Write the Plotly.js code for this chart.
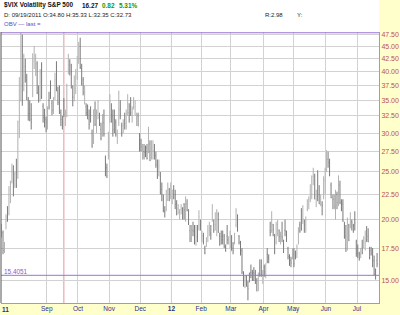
<!DOCTYPE html>
<html><head><meta charset="utf-8">
<script src="https://cdn.plot.ly/plotly-3.0.1.min.js"></script>
<style>html,body{margin:0;padding:0;background:#fff}#c{width:400px;height:315px}</style>
</head><body><div id="c"></div>
<script>
// trading days per month, Jul 20 2011 .. Jul 20 2012
const monthNames = ['Jul','Aug','Sep','Oct','Nov','Dec','12','Feb','Mar','Apr','May','Jun','Jul'];
const monthCounts = [8,23,21,21,21,21,20,20,22,20,22,21,14];

const opens = [
 18.7,18.8,17.4,19.8,20.5,20.6,22.5,25.0,
 24.0,24.0,24.9,25.0,30.5,35.0,44.0,38.0,41.0,38.5,35.0,33.5,32.0,36.0,42.0,40.0,41.5,36.0,35.0,40.0,34.0,33.0,32.0,
 31.5,35.0,37.5,34.5,33.5,35.5,40.5,36.5,35.0,33.0,31.5,34.80,32.5,33.0,40.5,42.0,40.0,35.5,35.5,37.0,39.0,
 43.5,45.0,40.5,38.5,35.5,34.0,33.5,32.0,33.0,30.0,29.0,33.5,30.5,33.0,32.0,30.5,30.0,31.5,26.0,25.5,27.0,
 32.0,33.5,32.5,32.0,31.5,29.5,31.5,33.5,31.0,31.0,32.0,31.0,33.0,33.0,34.0,33.0,34.0,34.0,32.0,32.5,29.0,
 28.5,27.0,27.5,27.8,28.0,27.5,28.5,27.5,27.5,28.0,27.0,25.5,25.0,24.5,23.0,22.0,20.8,21.5,22.0,23.0,22.5,
 22.5,23.0,22.5,21.5,21.0,20.5,21.0,21.0,21.5,20.0,21.5,20.0,19.0,18.5,19.0,19.0,18.0,19.0,19.5,19.5,
 18.5,18.5,17.5,18.0,18.5,19.0,18.8,20.0,19.5,19.5,19.0,20.5,18.5,18.5,18.5,18.5,17.5,18.5,18.0,17.5,
 18.5,17.5,18.0,19.5,20.0,18.5,17.8,17.3,15.5,15.0,15.3,14.6,15.3,15.6,15.5,15.6,15.5,14.8,14.5,15.5,16.0,15.5,
 16.0,15.5,17.0,16.8,19.0,19.0,19.5,18.5,18.0,19.5,19.0,18.5,18.5,17.8,19.0,18.8,17.5,16.8,16.5,17.0,
 17.0,17.0,17.0,18.0,19.5,19.5,20.0,19.5,19.5,21.0,21.5,22.0,22.5,24.5,24.5,22.0,23.0,22.5,21.5,21.5,22.5,24.0,
 25.5,26.5,26.5,23.5,21.5,22.0,20.5,22.5,21.5,23.5,21.5,21.5,19.5,18.5,17.5,19.5,19.5,19.8,19.5,20.0,18.0,
 17.5,17.0,17.0,17.5,18.0,18.0,19.0,18.5,17.5,17.3,17.0,16.5,15.5,16.5];
const highs = [
 19.6,19.0,18.0,20.5,21.3,23.4,24.0,26.0,
 25.8,25.0,26.6,31.8,39.0,48.0,47.6,43.5,42.5,39.6,35.5,35.0,34.5,43.6,45.1,43.5,42.0,37.5,40.5,41.8,34.5,33.6,32.4,
 34.0,36.4,38.4,35.0,35.5,39.8,42.0,37.3,37.5,33.5,32.5,35.33,33.5,37.8,43.5,42.4,41.5,37.5,39.3,40.5,43.0,
 46.0,46.9,41.5,39.0,37.5,34.5,34.3,33.5,34.0,30.5,33.5,34.8,33.5,35.0,33.0,31.5,32.8,33.5,27.0,26.0,30.2,
 36.0,34.5,33.5,33.5,32.0,30.5,36.6,35.0,31.5,32.0,33.0,33.5,36.0,34.5,35.5,34.0,35.5,35.0,33.0,33.0,30.0,
 29.2,28.5,28.5,28.3,28.5,30.9,29.0,29.0,29.0,28.5,27.5,26.5,26.5,25.0,23.8,22.5,21.3,23.0,23.8,23.2,23.8,
 23.0,23.5,23.0,21.9,21.5,21.0,21.5,21.2,21.6,22.3,22.0,21.0,19.5,19.5,19.8,19.5,19.5,19.5,20.9,20.0,
 19.0,18.8,17.7,18.4,19.5,19.8,19.5,21.5,20.0,20.7,21.0,20.7,18.8,19.0,19.0,18.7,17.8,19.5,18.5,19.0,
 18.6,18.0,18.8,21.1,20.5,18.6,18.1,17.5,15.7,15.4,15.4,15.0,15.6,16.2,15.8,16.0,15.8,15.2,15.6,16.6,16.6,15.8,
 16.2,16.3,17.5,17.0,19.8,20.8,19.6,18.7,19.8,20.0,19.1,18.9,19.8,18.2,20.0,19.0,17.6,17.0,16.8,17.5,
 17.5,17.3,17.8,19.3,19.8,21.1,21.4,20.0,20.3,22.0,22.3,23.6,24.6,25.5,24.8,23.0,25.2,23.5,22.5,21.8,24.5,25.5,
 27.7,27.5,26.6,23.8,22.5,22.5,23.0,22.8,24.6,24.0,22.0,22.0,19.8,19.5,20.2,19.6,20.7,20.0,19.6,20.8,18.2,
 17.8,17.2,17.5,18.2,18.5,19.0,19.4,19.2,17.6,17.6,17.5,16.9,15.9,17.1];
const lows = [
 18.4,17.0,17.1,19.1,19.8,20.4,21.6,23.7,
 22.3,23.2,23.2,24.2,29.3,34.8,34.1,36.5,38.0,35.0,31.8,31.7,30.5,35.5,40.5,39.2,36.0,34.6,34.8,35.2,31.5,30.8,30.1,
 30.5,33.5,35.2,32.6,32.8,35.0,36.5,34.2,32.8,31.0,30.5,32.35,31.0,32.3,39.5,39.3,37.0,34.0,34.8,36.0,38.5,
 41.5,40.5,37.5,35.8,34.3,32.5,32.0,30.5,31.5,28.0,28.5,31.0,30.0,32.0,31.0,29.0,29.5,29.5,24.5,24.3,26.5,
 31.5,31.5,29.5,30.0,29.5,28.5,31.0,32.0,29.5,30.0,30.5,30.5,32.5,31.5,32.5,31.5,33.5,32.5,31.0,31.0,27.5,
 27.5,26.5,26.5,26.8,26.5,27.3,26.3,26.5,26.5,26.5,25.5,24.2,24.5,22.5,21.8,20.7,20.2,20.8,21.8,21.8,22.0,
 21.5,22.0,21.0,20.4,20.5,20.0,20.5,20.0,20.0,19.8,20.8,19.5,18.0,18.0,18.5,17.8,17.7,18.0,19.0,19.0,
 18.0,17.8,17.0,17.6,18.0,18.5,18.2,19.8,18.8,19.0,18.5,18.8,17.7,17.8,17.8,17.5,17.2,17.8,17.8,17.5,
 17.3,17.0,17.8,19.3,18.9,17.8,16.9,15.5,14.6,14.5,14.6,13.7,14.9,15.2,15.0,15.0,14.8,14.3,14.3,15.3,15.3,14.8,
 15.3,15.2,16.3,16.3,18.5,18.8,18.5,17.0,17.8,18.5,18.0,17.8,18.0,17.1,18.5,18.0,16.6,16.1,16.0,16.6,
 16.0,16.6,16.7,17.8,18.8,19.0,19.6,18.8,18.8,20.8,21.0,21.7,22.0,23.5,22.0,21.2,21.8,21.5,21.3,20.4,22.0,22.5,
 25.0,25.5,24.5,22.1,21.0,21.0,20.0,21.0,21.3,21.5,20.8,19.8,18.3,17.2,17.3,18.1,19.2,19.0,18.8,19.0,16.8,
 16.7,16.5,16.7,17.0,17.5,17.3,18.0,18.0,16.6,16.9,16.0,15.4,15.1,16.0];
const closes = [
 19.21,17.28,17.52,20.23,20.25,22.98,23.74,25.25,
 23.66,24.79,23.38,31.66,32.00,48.00,35.06,42.99,39.00,36.36,32.85,32.89,31.58,42.67,43.05,42.44,36.27,35.90,39.76,35.59,32.28,32.91,31.62,
 31.82,33.92,37.00,33.38,35.00,38.52,36.91,34.60,33.74,31.97,30.98,32.73,32.91,37.32,41.35,41.25,37.00,35.50,38.84,37.50,42.96,
 45.45,40.82,37.81,36.27,36.20,33.04,32.86,31.26,32.50,28.24,33.39,31.26,32.50,34.78,31.32,29.26,32.22,29.86,25.46,24.53,29.96,
 34.77,32.74,30.50,30.16,29.85,29.69,36.16,32.81,30.04,31.13,31.37,32.91,34.51,32.00,32.91,33.55,34.87,34.47,32.23,30.90,27.80,
 28.13,27.52,27.41,27.20,26.66,30.59,26.38,27.84,27.61,27.59,25.88,24.29,25.67,22.65,22.50,20.89,20.73,21.91,23.52,22.65,23.40,
 22.97,22.22,21.48,20.63,21.07,20.69,21.05,20.47,20.91,22.20,20.89,19.60,18.28,18.67,18.94,18.31,18.46,18.53,20.30,19.44,
 18.55,17.98,17.10,18.38,18.97,19.14,18.63,20.79,19.04,19.54,20.80,18.82,17.78,18.19,18.20,17.63,17.31,18.19,18.19,18.43,
 17.26,17.29,18.05,20.87,19.07,17.95,17.11,15.64,14.80,15.31,14.72,14.47,15.04,15.58,15.13,15.57,14.82,14.26,15.59,15.47,15.48,15.50,
 15.64,15.66,16.44,16.70,18.81,20.39,19.08,17.20,19.55,19.55,18.46,18.64,18.35,17.44,18.97,18.10,16.82,16.24,16.32,17.15,
 16.25,16.88,17.56,19.16,18.94,19.05,20.08,19.17,19.89,21.87,21.97,22.27,24.49,25.10,22.01,22.48,22.33,21.54,21.76,21.35,24.14,24.06,
 26.66,26.12,24.68,22.16,21.72,21.23,22.09,21.65,24.27,21.68,21.11,19.85,18.32,17.24,20.08,18.11,20.11,19.72,19.45,19.71,17.08,
 17.08,16.66,17.50,17.10,18.32,18.72,18.21,18.00,16.74,17.11,16.48,15.45,15.45,16.27];

const yTicks = [15,17.5,20,22.5,25,27.5,30,32.5,35,37.5,40,42.5,45,47.5];
const levelTop = 48.00;
const levelBottom = 15.4051;
const cursorDay = 42; // 09/19/2011

// layout geometry
const W=400,H=315,L=1,R=21,T=32,B=12;
const pw=W-L-R, ph=H-T-B;
const px2x = p => (p-L)/pw;
const py2y = p => (H-B-p)/ph;

const idx = closes.map((_,i)=>i);
const starts=[]; let acc=0;
monthCounts.forEach(c=>{starts.push(acc); acc+=c;});
const tickIdx = starts.slice(2).map(s=>s-0.5);
const tickTxt = monthNames.slice(2).map(n=> n==='12' ? '<b>12</b>' : n);
const janLine = starts[6]-0.5;

const purple = '#9d72d6';
const traces = [
 {type:'ohlc', x:idx, open:opens, high:highs, low:lows, close:closes,
  increasing:{line:{color:'#b2b2b2',width:1}}, decreasing:{line:{color:'#7a7a7a',width:1}},
  tickwidth:0.25, hoverinfo:'none', showlegend:false},
 {type:'scatter', mode:'lines', x:[-5,300], y:[levelTop,levelTop], line:{color:purple,width:1}, hoverinfo:'none', showlegend:false},
 {type:'scatter', mode:'lines', x:[-5,300], y:[levelBottom,levelBottom], line:{color:purple,width:1}, hoverinfo:'none', showlegend:false}
];

const F = 'Liberation Sans, Arial, sans-serif';
const ann = (text, p, q, opts={}) => Object.assign({text, x:px2x(p), y:py2y(q), xref:'paper', yref:'paper',
  xanchor:'left', yanchor:'middle', showarrow:false, font:{family:F,size:6,color:'#222'}}, opts);

const layout = {
 width:W, height:H, margin:{l:L,r:R,t:T,b:B,pad:0},
 paper_bgcolor:'#ffffff', plot_bgcolor:'#ffffff', showlegend:false,
 xaxis:{type:'linear', range:[-0.35,254.3], tickvals:tickIdx, ticktext:tickTxt, ticks:'',
   showgrid:true, gridcolor:'#d2d2d2', gridwidth:1, zeroline:false, showline:true, linecolor:'#a0a0a0', linewidth:1,
   tickfont:{family:F,size:6.5,color:'#2e2e8c'}, ticklabelstandoff:-1, rangeslider:{visible:false}, fixedrange:true},
 yaxis:{type:'log', side:'right', range:[Math.log10(13.53),Math.log10(48.17)], tickvals:yTicks,
   ticktext:yTicks.map(v=>v.toFixed(2)), ticks:'', showgrid:true, gridcolor:'#d2d2d2', gridwidth:1,
   zeroline:false, showline:true, linecolor:'#a0a0a0', linewidth:1,
   tickfont:{family:F,size:7,color:'#c0504d'}, fixedrange:true},
 shapes:[
  {type:'rect', xref:'paper', yref:'paper', x0:px2x(0), x1:px2x(400), y0:py2y(315), y1:py2y(303), fillcolor:'#ffffcc', line:{width:0}, layer:'below'},
  {type:'rect', xref:'paper', yref:'paper', x0:px2x(379), x1:px2x(400), y0:py2y(315), y1:py2y(0), fillcolor:'#ffffcc', line:{width:0}, layer:'below'},
  {type:'line', xref:'x', yref:'paper', x0:janLine, x1:janLine, y0:0, y1:1, line:{color:'#9a9a9a',width:1}, layer:'below'},
  {type:'line', xref:'x', yref:'paper', x0:cursorDay, x1:cursorDay, y0:0, y1:1, line:{color:'#e09a9a',width:1}, layer:'below'},
  {type:'line', xref:'paper', yref:'paper', x0:px2x(1), x1:px2x(1), y0:0, y1:1, line:{color:'#555',width:1}}
 ],
 annotations:[
  ann('<b>$VIX Volatility S&amp;P 500</b>', 2, 5, {font:{family:F,size:6.4,color:'#111'}}),
  ann('<b>16.27</b>', 80, 5, {font:{family:F,size:6.4,color:'#111'}}),
  ann('<b>0.82</b>', 100, 5, {font:{family:F,size:6.4,color:'#0a9a0a'}}),
  ann('<b>5.31%</b>', 117, 5, {font:{family:F,size:6.4,color:'#0a9a0a'}}),
  ann('D: 09/19/2011 O:34.80 H:35.33 L:32.35 C:32.73', 2, 15, {font:{family:F,size:6,color:'#222'}}),
  ann('R:2.98', 263, 15, {font:{family:F,size:6,color:'#222'}}),
  ann('Y:', 295, 15, {font:{family:F,size:6,color:'#222'}}),
  ann('OBV — last =', 2, 24, {font:{family:F,size:6,color:'#5a4fc0'}}),
  ann('15.4051', 2, 271, {font:{family:F,size:6.4,color:'#8a5cc8'}}),
  {text:'<b>11</b>', x:2.6, y:py2y(309), xref:'x', yref:'paper', xanchor:'center', yanchor:'middle', showarrow:false,
   font:{family:F,size:6.5,color:'#2e2e8c'}}
 ]
};
Plotly.newPlot('c', traces, layout, {staticPlot:true, displayModeBar:false});
</script></body></html>
